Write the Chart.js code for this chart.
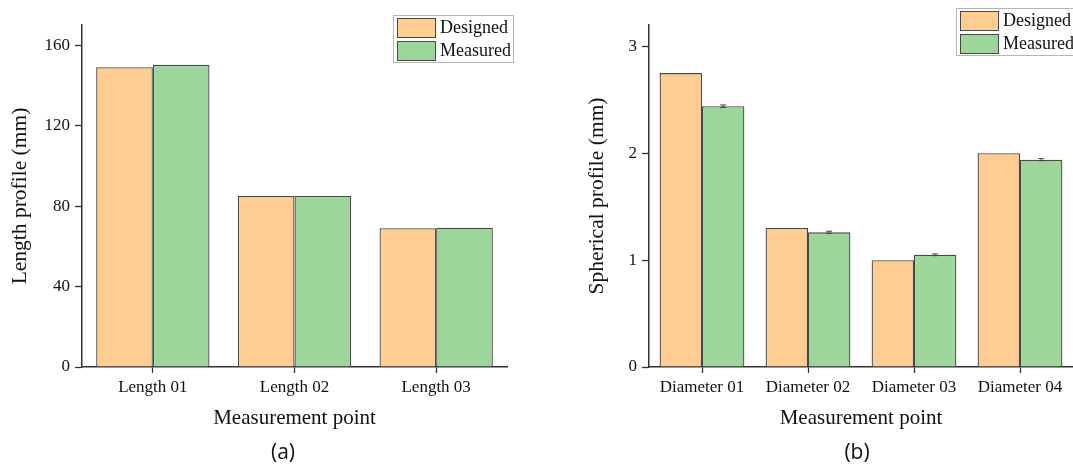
<!DOCTYPE html>
<html>
<head>
<meta charset="utf-8">
<script src="https://cdn.jsdelivr.net/npm/chart.js@4/dist/chart.umd.min.js"></script>
<style>
  body { margin: 0; background: #fff; width: 1073px; height: 468px; overflow: hidden; position: relative; }
  .wrap { position: absolute; top: 0; height: 468px; }
  .caption { position: absolute; top: 437px; font-family: "Open Sans", sans-serif; font-size: 21px; color: #111; transform: translateX(-50%); }
</style>
</head>
<body>
<div class="wrap" style="left:0;width:530px"><canvas id="chartA"></canvas></div>
<div class="wrap" style="left:560px;width:513px"><canvas id="chartB"></canvas></div>
<div class="caption" style="left:283px">(a)</div>
<div class="caption" style="left:857px">(b)</div>
<script>
// chart (a) data
const lengthLabels = ["Length 01", "Length 02", "Length 03"];
const lengthDesigned = [149, 85, 69];
const lengthMeasured = [150.2, 85, 69.2];
const lengthTicks = [0, 40, 80, 120, 160];

// chart (b) data
const diameterLabels = ["Diameter 01", "Diameter 02", "Diameter 03", "Diameter 04"];
const diameterDesigned = [2.75, 1.3, 1.0, 2.0];
const diameterMeasured = [2.44, 1.26, 1.05, 1.94];
const diameterErrors = [0.012, 0.01, 0.008, 0.01];
const diameterTicks = [0, 1, 2, 3];

const serif = "'Liberation Serif', 'Times New Roman', serif";
const axisColor = "#333";
const designedColor = "#FFCC91";
const measuredColor = "#9DD69B";
const barBorder = "#484848";

// draws the legend box in the top right corner
const boxLegend = {
  id: "boxLegend",
  afterDraw(chart, args, opts) {
    const { ctx } = chart;
    const x = opts.x, y = opts.y;
    ctx.save();
    ctx.strokeStyle = "#b5b5b5";
    ctx.lineWidth = 1;
    ctx.fillStyle = "#fff";
    ctx.fillRect(x + 0.5, y + 0.5, 120, 47);
    ctx.strokeRect(x + 0.5, y + 0.5, 120, 47);
    chart.data.datasets.forEach((ds, i) => {
      const ry = y + 3 + i * 23;
      ctx.fillStyle = ds.backgroundColor;
      ctx.fillRect(x + 4.5, ry + 0.5, 38, 19);
      ctx.strokeStyle = barBorder;
      ctx.strokeRect(x + 4.5, ry + 0.5, 38, 19);
      ctx.fillStyle = "#111";
      ctx.font = "18px " + serif;
      ctx.textBaseline = "middle";
      ctx.fillText(ds.label, x + 47, ry + 10.5);
    });
    ctx.restore();
  }
};

// small error bars on the measured series
const errorBars = {
  id: "errorBars",
  afterDatasetsDraw(chart, args, opts) {
    if (!opts.errors) return;
    const { ctx } = chart;
    const yScale = chart.scales.y;
    const meta = chart.getDatasetMeta(1);
    const values = chart.data.datasets[1].data;
    ctx.save();
    ctx.strokeStyle = "#444";
    ctx.lineWidth = 1;
    meta.data.forEach((bar, i) => {
      const top = yScale.getPixelForValue(values[i] + opts.errors[i]);
      const bot = yScale.getPixelForValue(values[i] - opts.errors[i]);
      ctx.beginPath();
      ctx.moveTo(bar.x, top); ctx.lineTo(bar.x, bot);
      ctx.moveTo(bar.x - 3, top); ctx.lineTo(bar.x + 3, top);
      ctx.moveTo(bar.x - 3, bot); ctx.lineTo(bar.x + 3, bot);
      ctx.stroke();
    });
    ctx.restore();
  }
};

const makeChart = (id, cfg) => new Chart(document.getElementById(id), {
  type: "bar",
  data: {
    labels: cfg.labels,
    datasets: [
      { label: "Designed", data: cfg.designed, backgroundColor: designedColor, borderColor: barBorder, borderWidth: 1.3 },
      { label: "Measured", data: cfg.measured, backgroundColor: measuredColor, borderColor: barBorder, borderWidth: 1.3 },
    ],
  },
  plugins: [boxLegend, errorBars],
  options: {
    responsive: false,
    animation: false,
    devicePixelRatio: 1,
    layout: { padding: { top: 25, right: cfg.padRight, left: 0, bottom: 0 } },
    datasets: { bar: { categoryPercentage: 0.8, barPercentage: 1.0 } },
    plugins: {
      legend: { display: false },
      tooltip: { enabled: false },
      boxLegend: cfg.legend,
      errorBars: { errors: cfg.errors },
    },
    scales: {
      x: {
        afterFit: (s) => { s.height = 101; },
        grid: { display: true, drawOnChartArea: false, offset: false, tickLength: 6, color: axisColor, tickWidth: 1.3 },
        border: { display: true, color: axisColor, width: 1.5 },
        ticks: { color: "#111", padding: 4, font: { family: serif, size: 17 } },
        title: { display: true, text: "Measurement point", color: "#111", font: { family: serif, size: 21 }, padding: { top: 0, bottom: 37 } },
      },
      y: {
        min: 0,
        max: cfg.max,
        afterFit: (s) => { s.width = cfg.yWidth; },
        afterBuildTicks: (s) => { s.ticks = cfg.ticks.map((v) => ({ value: v })); },
        grid: { display: true, drawOnChartArea: false, tickLength: 7, color: axisColor, tickWidth: 1.3 },
        border: { display: true, color: axisColor, width: 1.5 },
        ticks: { color: "#111", padding: 5, font: { family: serif, size: 17 } },
        title: { display: true, text: cfg.yTitle, color: "#111", font: { family: serif, size: 21.5 }, padding: { top: cfg.titlePad, bottom: 0 } },
      },
    },
  },
});

document.getElementById("chartA").width = 530;
document.getElementById("chartA").height = 468;
document.getElementById("chartB").width = 513;
document.getElementById("chartB").height = 468;

makeChart("chartA", {
  labels: lengthLabels, designed: lengthDesigned, measured: lengthMeasured,
  ticks: lengthTicks, max: 170, yWidth: 82, padRight: 23, titlePad: 7,
  yTitle: "Length profile (mm)", legend: { x: 393, y: 15 }, errors: null,
});

makeChart("chartB", {
  labels: diameterLabels, designed: diameterDesigned, measured: diameterMeasured,
  ticks: diameterTicks, max: 3.2, yWidth: 89, padRight: 0, titlePad: 24,
  yTitle: "Spherical profile (mm)", legend: { x: 396, y: 8 }, errors: diameterErrors,
});
</script>
</body>
</html>
